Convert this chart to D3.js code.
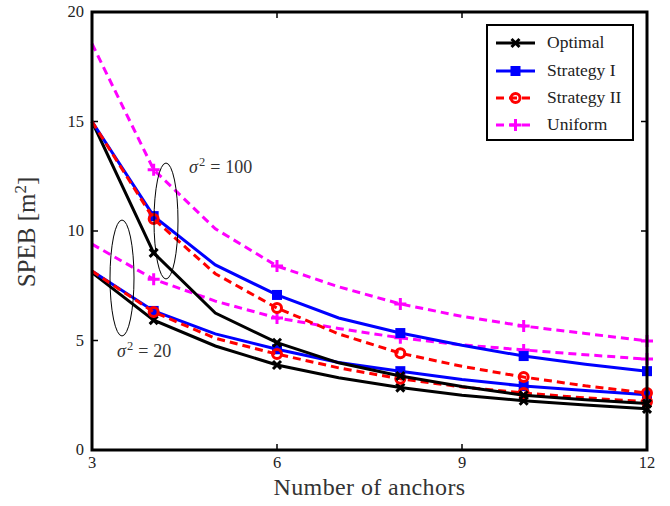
<!DOCTYPE html>
<html>
<head>
<meta charset="utf-8">
<script src="https://cdn.jsdelivr.net/npm/d3@7"></script>
<style>
  body { margin: 0; background: #fff; }
  svg { display: block; font-family: "Liberation Serif", "DejaVu Serif", serif; }
</style>
</head>
<body>
<svg id="chart" width="670" height="506"></svg>
<script>
// Anchor counts and the ones that carry a marker
const anchors = [3, 4, 5, 6, 7, 8, 9, 10, 11, 12];
const markerAnchors = [4, 6, 8, 10, 12];

// SPEB values, sigma^2 = 100
const optimal100   = [15.0, 9.0, 6.25, 4.9, 3.98, 3.38, 2.9, 2.5, 2.3, 2.12];
const strategyI100 = [15.0, 10.68, 8.45, 7.08, 6.03, 5.34, 4.78, 4.29, 3.92, 3.6];
const strategyII100 = [15.0, 10.55, 8.05, 6.48, 5.3, 4.42, 3.82, 3.33, 2.93, 2.6];
const uniform100   = [18.55, 12.8, 10.1, 8.4, 7.45, 6.67, 6.1, 5.66, 5.32, 4.98];

// SPEB values, sigma^2 = 20
const optimal20    = [8.1, 5.93, 4.75, 3.88, 3.3, 2.85, 2.5, 2.25, 2.05, 1.88];
const strategyI20  = [8.17, 6.35, 5.3, 4.6, 4.0, 3.6, 3.22, 2.92, 2.72, 2.52];
const strategyII20 = [8.17, 6.3, 5.1, 4.38, 3.75, 3.25, 2.88, 2.6, 2.38, 2.2];
const uniform20    = [9.4, 7.8, 6.8, 6.03, 5.55, 5.12, 4.8, 4.57, 4.35, 4.15];

const xTicks = [3, 6, 9, 12];
const yTicks = [0, 5, 10, 15, 20];

const legendNames = ["Optimal", "Strategy I", "Strategy II", "Uniform"];

const styles = {
  "Optimal":     {color: "#000000", dash: null,  marker: "x"},
  "Strategy I":  {color: "#0000ff", dash: null,  marker: "square"},
  "Strategy II": {color: "#ff0000", dash: "8,5", marker: "circle"},
  "Uniform":     {color: "#ff00ff", dash: "8,5", marker: "plus"}
};

const series = [
  {name: "Optimal", values: optimal20},
  {name: "Strategy I", values: strategyI20},
  {name: "Strategy II", values: strategyII20},
  {name: "Uniform", values: uniform20},
  {name: "Optimal", values: optimal100},
  {name: "Strategy I", values: strategyI100},
  {name: "Strategy II", values: strategyII100},
  {name: "Uniform", values: uniform100}
];

const svg = d3.select("#chart");
const box = {left: 92, right: 647, top: 12, bottom: 450};

const x = d3.scaleLinear().domain([3, 12]).range([box.left, box.right]);
const y = d3.scaleLinear().domain([0, 20]).range([box.bottom, box.top]);

// Markers drawn as small paths around a point
function drawMarker(g, type, cx, cy, color) {
  if (type === "x") {
    const s = 4;
    g.append("path")
     .attr("d", `M${cx - s},${cy - s}L${cx + s},${cy + s}M${cx - s},${cy + s}L${cx + s},${cy - s}`)
     .attr("stroke", color).attr("stroke-width", 3).attr("fill", "none");
  } else if (type === "square") {
    g.append("rect")
     .attr("x", cx - 5).attr("y", cy - 5)
     .attr("width", 10).attr("height", 10)
     .attr("fill", color);
  } else if (type === "circle") {
    g.append("circle")
     .attr("cx", cx).attr("cy", cy).attr("r", 4.5)
     .attr("fill", "none").attr("stroke", color).attr("stroke-width", 3);
  } else if (type === "plus") {
    const s = 6;
    g.append("path")
     .attr("d", `M${cx - s},${cy}L${cx + s},${cy}M${cx},${cy - s}L${cx},${cy + s}`)
     .attr("stroke", color).attr("stroke-width", 3).attr("fill", "none");
  }
}

// Axis ticks, pointing inward on all four sides
const axes = svg.append("g");
xTicks.forEach(t => {
  axes.append("line").attr("x1", x(t)).attr("x2", x(t)).attr("y1", box.bottom).attr("y2", box.bottom - 6)
      .attr("stroke", "#000").attr("stroke-width", 1.5);
  axes.append("line").attr("x1", x(t)).attr("x2", x(t)).attr("y1", box.top).attr("y2", box.top + 6)
      .attr("stroke", "#000").attr("stroke-width", 1.5);
  axes.append("text").attr("x", x(t)).attr("y", box.bottom + 18)
      .attr("text-anchor", "middle").attr("font-size", 16.5).attr("fill", "#222")
      .text(t);
});
yTicks.forEach(t => {
  axes.append("line").attr("x1", box.left).attr("x2", box.left + 6).attr("y1", y(t)).attr("y2", y(t))
      .attr("stroke", "#000").attr("stroke-width", 1.5);
  axes.append("line").attr("x1", box.right).attr("x2", box.right - 6).attr("y1", y(t)).attr("y2", y(t))
      .attr("stroke", "#000").attr("stroke-width", 1.5);
  axes.append("text").attr("x", box.left - 8).attr("y", y(t) + 5)
      .attr("text-anchor", "end").attr("font-size", 16.5).attr("fill", "#222")
      .text(t);
});

// Series lines and markers
const line = d3.line().x((d, i) => x(anchors[i])).y(d => y(d));
const plot = svg.append("g");
series.forEach(s => {
  const st = styles[s.name];
  plot.append("path")
      .attr("d", line(s.values))
      .attr("fill", "none")
      .attr("stroke", st.color)
      .attr("stroke-width", 3)
      .attr("stroke-dasharray", st.dash);
  anchors.forEach((a, i) => {
    if (markerAnchors.includes(a)) drawMarker(plot, st.marker, x(a), y(s.values[i]), st.color);
  });
});

// Frame
svg.append("rect")
   .attr("x", box.left).attr("y", box.top)
   .attr("width", box.right - box.left).attr("height", box.bottom - box.top)
   .attr("fill", "none").attr("stroke", "#000").attr("stroke-width", 3);

// Group annotations
const notes = svg.append("g");
notes.append("ellipse").attr("cx", 166).attr("cy", 221).attr("rx", 12).attr("ry", 58)
     .attr("fill", "none").attr("stroke", "#000").attr("stroke-width", 1);
notes.append("ellipse").attr("cx", 122).attr("cy", 278).attr("rx", 12).attr("ry", 58)
     .attr("fill", "none").attr("stroke", "#000").attr("stroke-width", 1);

function sigmaLabel(px, py, value) {
  const t = notes.append("text").attr("x", px).attr("y", py)
                 .attr("font-size", 18).attr("fill", "#333");
  t.append("tspan").attr("font-style", "italic").text("σ");
  t.append("tspan").attr("font-size", 12.5).attr("dy", -7).attr("dx", 1).text("2");
  t.append("tspan").attr("dy", 7).attr("dx", 5).text("=");
  t.append("tspan").attr("dx", 5).text(value);
}
sigmaLabel(189, 173, 100);
sigmaLabel(117, 357, 20);

// Axis titles
svg.append("text")
   .attr("x", (box.left + box.right) / 2).attr("y", 495)
   .attr("text-anchor", "middle").attr("font-size", 24).attr("fill", "#333")
   .attr("letter-spacing", 0.4)
   .text("Number of anchors");

const yTitle = svg.append("text")
   .attr("transform", "translate(35,232) rotate(-90)")
   .attr("text-anchor", "middle").attr("font-size", 25).attr("fill", "#333");
yTitle.append("tspan").text("SPEB [m");
yTitle.append("tspan").attr("font-size", 17).attr("dy", -9).text("2");
yTitle.append("tspan").attr("dy", 9).text("]");

// Legend
const legend = svg.append("g");
legend.append("rect")
      .attr("x", 487).attr("y", 25).attr("width", 146).attr("height", 115)
      .attr("fill", "#fff").attr("stroke", "#000").attr("stroke-width", 2);
const legendY = [43, 71, 98, 125];
legendNames.forEach((name, i) => {
  const st = styles[name];
  const ly = legendY[i];
  legend.append("line")
        .attr("x1", 496).attr("x2", 535).attr("y1", ly).attr("y2", ly)
        .attr("stroke", st.color).attr("stroke-width", 3)
        .attr("stroke-dasharray", st.dash);
  drawMarker(legend, st.marker, 515.5, ly, st.color);
  legend.append("text")
        .attr("x", 547).attr("y", ly + 5)
        .attr("font-size", 17.5).attr("fill", "#222")
        .text(name);
});
</script>
</body>
</html>
